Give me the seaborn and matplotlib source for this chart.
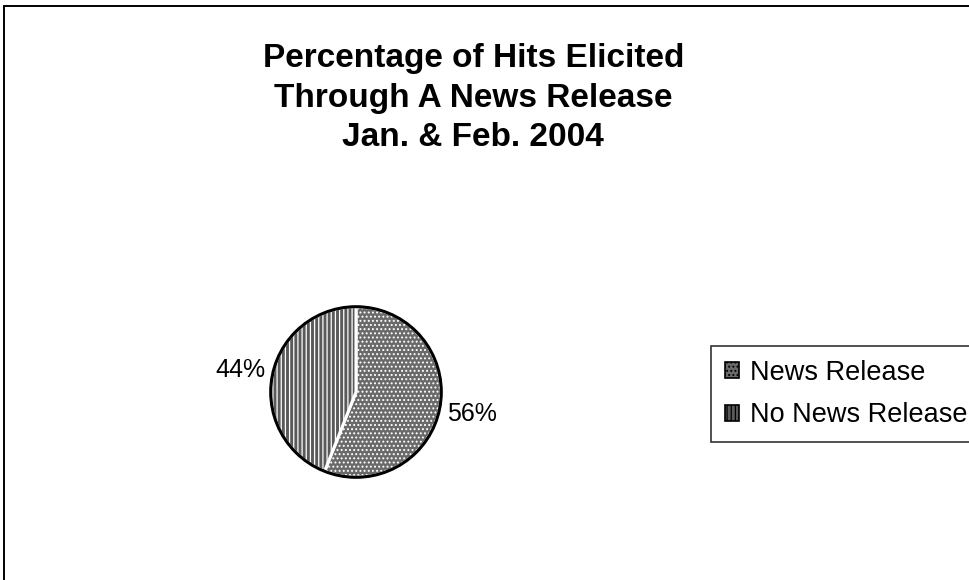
import matplotlib
matplotlib.use("Agg")
import matplotlib.pyplot as plt
import seaborn as sns
from matplotlib.patches import Patch, Circle, Rectangle

# data
categories = ["News Release", "No News Release"]
shares = [56, 44]
pct_labels = ["56%", "44%"]
title_lines = ["Percentage of Hits Elicited", "Through A News Release", "Jan. & Feb. 2004"]

sns.set_style("white")
plt.rcParams['font.family'] = ['Liberation Sans', 'DejaVu Sans']
plt.rcParams['text.color'] = 'black'
plt.rcParams['hatch.linewidth'] = 0.9

fills = sns.color_palette(["#6a6a6a", "#5a5a5a"])
hatches = ["....", "||||"]

fig = plt.figure(figsize=(9.7, 5.8), dpi=100)
fig.patch.set_facecolor("white")

# outer frame (right and bottom edges fall off the page like the scan)
fig.patches.append(Rectangle((0.004, -0.05), 1.1, 1.04, transform=fig.transFigure,
                             fill=False, edgecolor="black", linewidth=1.4))

fig.text(0.488, 0.926, "\n".join(title_lines), ha="center", va="top",
         fontsize=24, fontweight="bold", linespacing=1.36)

# pie axes: centre ~ (356, 392) px, radius ~ 87 px
ax = fig.add_axes([269 / 970, 1 - 479 / 580, 174 / 970, 174 / 580])
wedges, texts = ax.pie(shares, startangle=90, counterclock=False,
                       colors=fills, labels=pct_labels, labeldistance=1.38,
                       wedgeprops=dict(edgecolor="white", linewidth=2.2),
                       textprops=dict(fontsize=18, ha="center", va="center"))
for w, h in zip(wedges, hatches):
    w.set_hatch(h)
ax.add_patch(Circle((0, 0), 1.0, fill=False, edgecolor="black", linewidth=2.2))
ax.set_xlim(-1.02, 1.02)
ax.set_ylim(-1.02, 1.02)
ax.set_aspect("equal")
ax.axis("off")

handles = [Patch(facecolor=c, edgecolor="black", hatch=h, linewidth=1.2)
           for c, h in zip(fills, hatches)]
leg = fig.legend(handles, categories, loc="upper left",
                 bbox_to_anchor=(711 / 970, 1 - 346 / 580), fontsize=19.5,
                 frameon=True, fancybox=False, edgecolor="black",
                 handlelength=0.55, handleheight=0.55, handletextpad=0.4,
                 borderpad=0.5, labelspacing=0.62, borderaxespad=0)
leg.get_frame().set_linewidth(1.2)

fig.savefig("out.png", dpi=100)
